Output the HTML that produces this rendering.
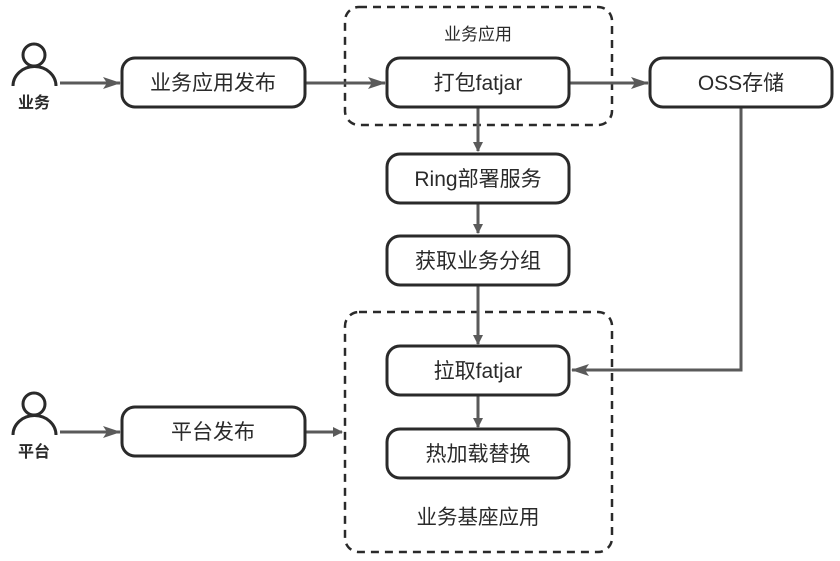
<!DOCTYPE html>
<html><head><meta charset="utf-8"><style>
html,body{margin:0;padding:0;background:#fff;}
svg{display:block;}
text{font-family:"Liberation Sans","Noto Sans CJK SC",sans-serif;fill:#2a2a2a;}
</style></head><body>
<svg width="840" height="561" viewBox="0 0 840 561" xmlns="http://www.w3.org/2000/svg">
<defs>
<marker id="a" markerWidth="10" markerHeight="10" refX="9" refY="5" orient="auto" markerUnits="userSpaceOnUse">
<path d="M0,0 L10,5 L0,10 Z" fill="#5a5a5a"/></marker>
<marker id="b" markerWidth="18" markerHeight="12" refX="17" refY="6" orient="auto" markerUnits="userSpaceOnUse">
<path d="M0,0 L18,6 L0,12 L4,6 Z" fill="#5a5a5a"/></marker>
</defs>
<g fill="none" stroke="#2a2a2a" stroke-width="2.5" stroke-dasharray="8,6">
<rect x="345" y="7" width="267" height="118" rx="14"/>
<rect x="345" y="312" width="267" height="240" rx="14"/>
</g>
<g fill="none" stroke="#5a5a5a" stroke-width="3">
<line x1="60" y1="83" x2="120" y2="83" marker-end="url(#b)"/>
<line x1="306" y1="83" x2="385" y2="83" marker-end="url(#b)"/>
<line x1="570" y1="83" x2="648" y2="83" marker-end="url(#b)"/>
<line x1="478" y1="108" x2="478" y2="151" marker-end="url(#a)"/>
<line x1="478" y1="204" x2="478" y2="233" marker-end="url(#a)"/>
<line x1="478" y1="286" x2="478" y2="344" marker-end="url(#a)"/>
<line x1="478" y1="396" x2="478" y2="427" marker-end="url(#a)"/>
<polyline points="741,108 741,370 572,370" marker-end="url(#b)"/>
<line x1="60" y1="432" x2="120" y2="432" marker-end="url(#b)"/>
<line x1="306" y1="432" x2="342" y2="432" marker-end="url(#a)"/>
</g>
<g fill="#fff" stroke="#2a2a2a" stroke-width="3">
<rect x="122" y="58" width="183" height="49" rx="13"/>
<rect x="387" y="58" width="182" height="49" rx="13"/>
<rect x="650" y="58" width="182" height="49" rx="13"/>
<rect x="387" y="154" width="182" height="49" rx="13"/>
<rect x="387" y="236" width="182" height="49" rx="13"/>
<rect x="387" y="346" width="182" height="49" rx="13"/>
<rect x="387" y="429" width="182" height="49" rx="13"/>
<rect x="122" y="407" width="183" height="49" rx="13"/>
</g>
<g fill="none" stroke="#2a2a2a" stroke-width="3">
<circle cx="34" cy="55" r="11"/>
<path d="M13,86 A21,19 0 0 1 56,86"/>
<circle cx="34" cy="404" r="11"/>
<path d="M13,435 A21,19 0 0 1 56,435"/>
</g>
<g font-size="21" text-anchor="middle">
<text x="213" y="90">业务应用发布</text>
<text x="478" y="90">打包fatjar</text>
<text x="741" y="90">OSS存储</text>
<text x="478" y="186">Ring部署服务</text>
<text x="478" y="268">获取业务分组</text>
<text x="478" y="378">拉取fatjar</text>
<text x="478" y="461">热加载替换</text>
<text x="213" y="439">平台发布</text>
<text x="478" y="524" font-size="20.5">业务基座应用</text>
</g>
<text x="478" y="40" font-size="17" text-anchor="middle">业务应用</text>
<text x="34" y="108" font-size="16" font-weight="bold" text-anchor="middle">业务</text>
<text x="34" y="457" font-size="16" font-weight="bold" text-anchor="middle">平台</text>
</svg>
</body></html>
